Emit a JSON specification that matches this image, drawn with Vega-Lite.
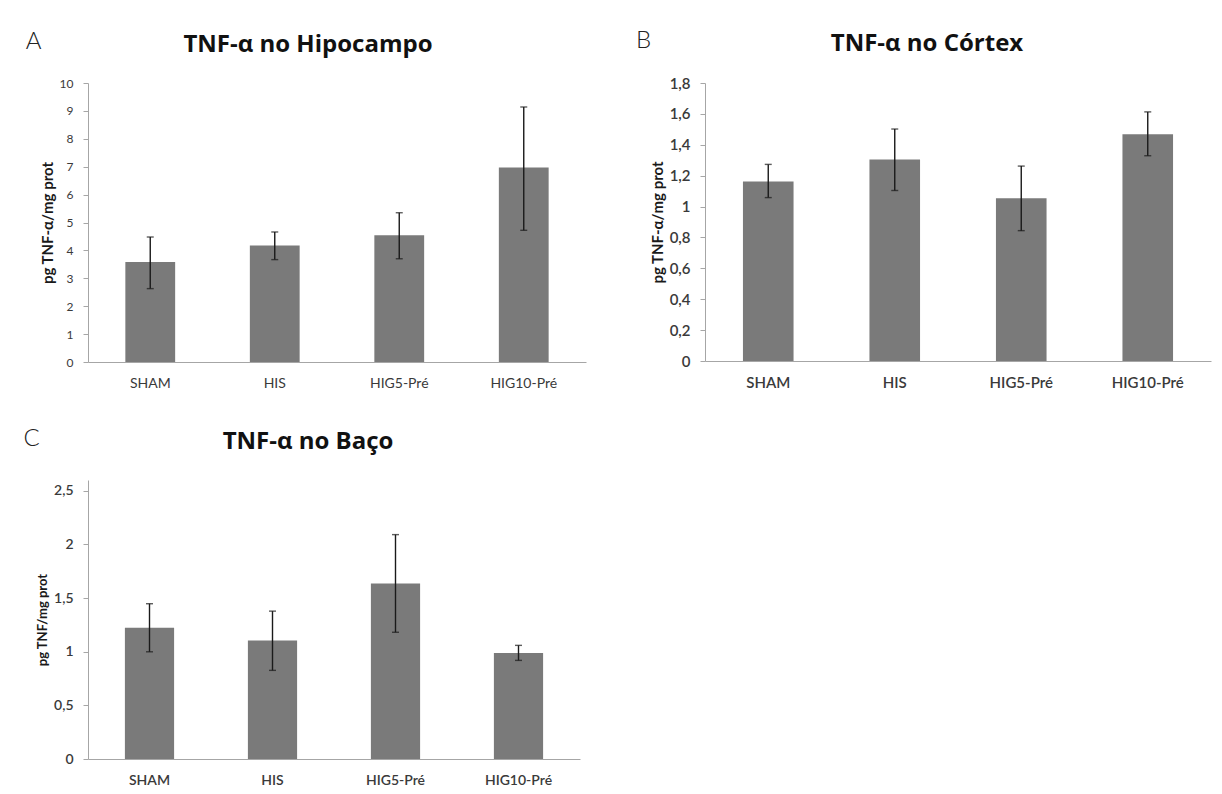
{
  "$schema": "https://vega.github.io/schema/vega-lite/v6.json",
  "background": "white",
  "padding": {"left": 22, "top": 28, "right": 5, "bottom": 5},
  "columns": 2,
  "bounds": "flush",
  "align": "all",
  "spacing": {"row": 118, "column": 111},
  "config": {
    "view": {"stroke": null},
    "font": "Lato",
    "axis": {"grid": false, "domainColor": "#a6a6a6", "tickColor": "#a6a6a6", "labelColor": "#3a3a3a", "titleColor": "#1a1a1a", "labelOverlap": false},
    "title": {"font": "Open Sans", "fontSize": 24, "fontWeight": "bold", "color": "#111111", "anchor": "middle", "frame": "group"}
  },
  "concat": [
    {
      "width": 498,
      "height": 279,
      "title": {"text": "TNF-α no Hipocampo", "dx": -29, "offset": -28},
      "data": {"values": [
        {"grupo": "SHAM", "media": 3.58, "inf": 2.63, "sup": 4.48},
        {"grupo": "HIS", "media": 4.18, "inf": 3.67, "sup": 4.66},
        {"grupo": "HIG5-Pré", "media": 4.54, "inf": 3.70, "sup": 5.35},
        {"grupo": "HIG10-Pré", "media": 6.97, "inf": 4.72, "sup": 9.14}
      ]},
      "encoding": {
        "x": {"field": "grupo", "type": "nominal", "sort": null,
          "scale": {"paddingInner": 0.6, "paddingOuter": 0.3},
          "axis": {"title": "A", "titleX": -55, "titleY": -321, "titleAngle": 0, "titleAlign": "center", "titleBaseline": "middle", "titleFontSize": 24, "titleFontWeight": 300, "titleColor": "#222222",
            "labelAngle": 0, "ticks": false, "tickSize": 0, "labelPadding": 14, "labelFontSize": 14, "labelFontWeight": "normal"}}
      },
      "layer": [
        {"mark": {"type": "bar", "color": "#7a7a7a"},
         "encoding": {"y": {"field": "media", "type": "quantitative", "scale": {"domain": [0, 10]},
           "axis": {"title": "pg TNF-α/mg prot", "titleFontSize": 15, "titleFontWeight": "bold", "titlePadding": 4,
             "values": [0,1,2,3,4,5,6,7,8,9,10], "labelFontSize": 12, "tickSize": 5, "labelPadding": 10}}}},
        {"mark": {"type": "errorbar", "color": "#1a1a1a", "thickness": 1.4, "ticks": {"size": 7, "thickness": 1.4, "color": "#1a1a1a"}},
         "encoding": {"y": {"field": "inf", "type": "quantitative", "title": "pg TNF-α/mg prot",
           "axis": {"title": "pg TNF-α/mg prot", "titleFontSize": 15, "titleFontWeight": "bold", "titlePadding": 4,
             "values": [0,1,2,3,4,5,6,7,8,9,10], "labelFontSize": 12, "tickSize": 5, "labelPadding": 10}}, "y2": {"field": "sup"}}}
      ]
    },
    {
      "width": 506,
      "height": 278,
      "title": {"text": "TNF-α no Córtex", "dx": -31, "offset": -28},
      "data": {"values": [
        {"grupo": "SHAM", "media": 1.162, "inf": 1.058, "sup": 1.273},
        {"grupo": "HIS", "media": 1.305, "inf": 1.104, "sup": 1.502},
        {"grupo": "HIG5-Pré", "media": 1.054, "inf": 0.844, "sup": 1.262},
        {"grupo": "HIG10-Pré", "media": 1.468, "inf": 1.329, "sup": 1.613}
      ]},
      "encoding": {
        "x": {"field": "grupo", "type": "nominal", "sort": null,
          "scale": {"paddingInner": 0.6, "paddingOuter": 0.3},
          "axis": {"title": "B", "titleX": -62, "titleY": -321, "titleAngle": 0, "titleAlign": "center", "titleBaseline": "middle", "titleFontSize": 24, "titleFontWeight": 300, "titleColor": "#222222",
            "labelAngle": 0, "ticks": false, "tickSize": 0, "labelPadding": 14, "labelFontSize": 15, "labelFontWeight": 600}}
      },
      "layer": [
        {"mark": {"type": "bar", "color": "#7a7a7a"},
         "encoding": {"y": {"field": "media", "type": "quantitative", "scale": {"domain": [0, 1.8]},
           "axis": {"title": "pg  TNF-α/mg prot", "titleFontSize": 15, "titleFontWeight": "bold", "titlePadding": 4,
             "values": [0,0.2,0.4,0.6,0.8,1,1.2,1.4,1.6,1.8], "labelExpr": "replace(format(datum.value, '.1~f'), '.', ',')",
             "labelFontSize": 15, "labelFontWeight": 600, "tickSize": 5, "labelPadding": 10}}}},
        {"mark": {"type": "errorbar", "color": "#1a1a1a", "thickness": 1.4, "ticks": {"size": 7, "thickness": 1.4, "color": "#1a1a1a"}},
         "encoding": {"y": {"field": "inf", "type": "quantitative", "title": "pg  TNF-α/mg prot",
           "axis": {"title": "pg  TNF-α/mg prot", "titleFontSize": 15, "titleFontWeight": "bold", "titlePadding": 4,
             "values": [0,0.2,0.4,0.6,0.8,1,1.2,1.4,1.6,1.8], "labelExpr": "replace(format(datum.value, '.1~f'), '.', ',')",
             "labelFontSize": 15, "labelFontWeight": 600, "tickSize": 5, "labelPadding": 10}}, "y2": {"field": "sup"}}}
      ]
    },
    {
      "width": 492,
      "height": 279,
      "title": {"text": "TNF-α no Baço", "dx": -26, "offset": -28},
      "data": {"values": [
        {"grupo": "SHAM", "media": 1.223, "inf": 0.999, "sup": 1.447},
        {"grupo": "HIS", "media": 1.104, "inf": 0.826, "sup": 1.378},
        {"grupo": "HIG5-Pré", "media": 1.635, "inf": 1.181, "sup": 2.091},
        {"grupo": "HIG10-Pré", "media": 0.987, "inf": 0.919, "sup": 1.059}
      ]},
      "encoding": {
        "x": {"field": "grupo", "type": "nominal", "sort": null,
          "scale": {"paddingInner": 0.6, "paddingOuter": 0.3},
          "axis": {"title": "C", "titleX": -57, "titleY": -321, "titleAngle": 0, "titleAlign": "center", "titleBaseline": "middle", "titleFontSize": 24, "titleFontWeight": 300, "titleColor": "#222222",
            "labelAngle": 0, "ticks": false, "tickSize": 0, "labelPadding": 14, "labelFontSize": 14, "labelFontWeight": 600}}
      },
      "layer": [
        {"mark": {"type": "bar", "color": "#7a7a7a"},
         "encoding": {"y": {"field": "media", "type": "quantitative", "scale": {"domain": [0, 2.5]},
           "axis": {"title": "pg TNF/mg prot", "titleFontSize": 13, "titleFontWeight": "bold", "titlePadding": 4,
             "values": [0,0.5,1,1.5,2,2.5], "labelExpr": "replace(format(datum.value, '.1~f'), '.', ',')",
             "labelFontSize": 14, "labelFontWeight": 600, "tickSize": 5, "labelPadding": 10}}}},
        {"mark": {"type": "errorbar", "color": "#1a1a1a", "thickness": 1.4, "ticks": {"size": 7, "thickness": 1.4, "color": "#1a1a1a"}},
         "encoding": {"y": {"field": "inf", "type": "quantitative", "title": "pg TNF/mg prot",
           "axis": {"title": "pg TNF/mg prot", "titleFontSize": 13, "titleFontWeight": "bold", "titlePadding": 4,
             "values": [0,0.5,1,1.5,2,2.5], "labelExpr": "replace(format(datum.value, '.1~f'), '.', ',')",
             "labelFontSize": 14, "labelFontWeight": 600, "tickSize": 5, "labelPadding": 10}}, "y2": {"field": "sup"}}}
      ]
    }
  ]
}
